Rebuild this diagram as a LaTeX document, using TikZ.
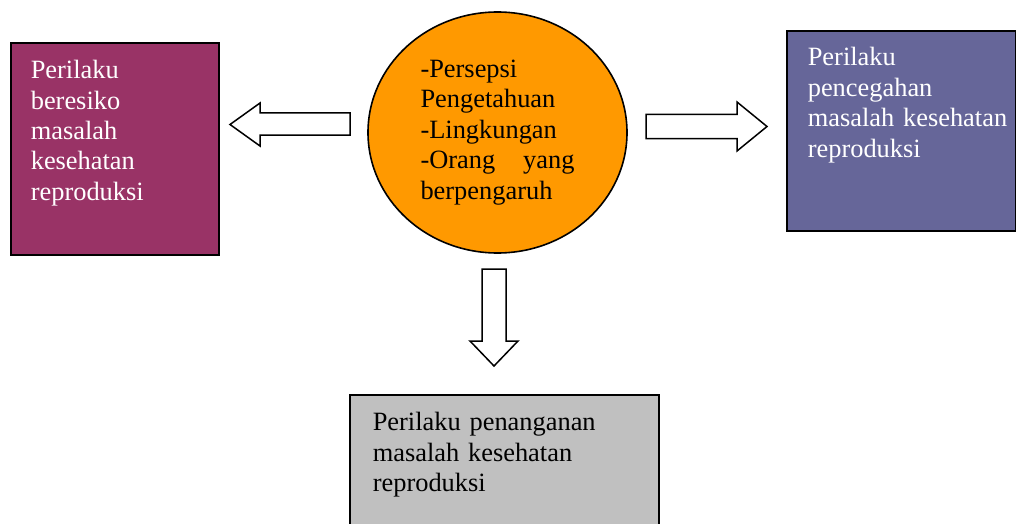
\documentclass[tikz,border=0pt]{standalone}
\usepackage{fontspec}
\setmainfont{Liberation Serif}
\usepackage{xcolor}
\usetikzlibrary{shapes.geometric}
\definecolor{plum}{HTML}{993366}
\definecolor{slate}{HTML}{666699}
\definecolor{amber}{HTML}{FF9900}
\definecolor{silver}{HTML}{C0C0C0}
\tikzset{
  box/.style = {draw, line width = 0.8pt, rectangle, inner ysep = 0pt, align = left, anchor = north west, font = \fontsize{13.2}{15.2}\selectfont},
  blockarrow/.style = {draw, line width = 0.75pt, fill = white, line join = miter}
}

\begin{document}
\begin{tikzpicture}[x = 0.5pt, y = -0.5pt]
\useasboundingbox (0, 0) rectangle (1016, 524);
\node [box, fill = plum, text = white, inner xsep = 10pt, text width = 84pt, text height = 18pt, text depth = 88pt] (risk) at (10, 42) {Perilaku\\beresiko\\masalah\\kesehatan\\reproduksi};
\node [box, fill = slate, text = white, inner xsep = 10.5pt, text width = 93.5pt, text height = 17.5pt, text depth = 82.5pt] (prevent) at (786, 30) {Perilaku\\pencegahan\\\mbox{masalah kesehatan}\\reproduksi};
\node [box, fill = silver, inner xsep = 11.5pt, text width = 131.5pt, text height = 18pt, text depth = 60pt] (handle) at (349, 394) {Perilaku penanganan\\masalah kesehatan\\reproduksi};
\node [ellipse, draw, line width = 0.8pt, fill = amber, minimum width = 129.5pt, minimum height = 120.5pt, inner sep = 0pt, text width = 77pt, align = left, font = \fontsize{13.2}{15.2}\selectfont] (factors) at (497.5, 132.5) {-Persepsi\\Pengetahuan\\-Lingkungan\\-Orang\hfill yang\\berpengaruh};
\draw [blockarrow] (350, 113) -- (260, 113) -- (260, 103) -- (230, 124.5) -- (260, 146) -- (260, 135) -- (350, 135) -- cycle;
\draw [blockarrow] (646, 114.5) -- (737, 114.5) -- (737, 102) -- (767, 126.5) -- (737, 151) -- (737, 138.5) -- (646, 138.5) -- cycle;
\draw [blockarrow] (482, 269) -- (506, 269) -- (506, 341) -- (518, 341) -- (494, 366) -- (470, 341) -- (482, 341) -- cycle;
\end{tikzpicture}
\end{document}
